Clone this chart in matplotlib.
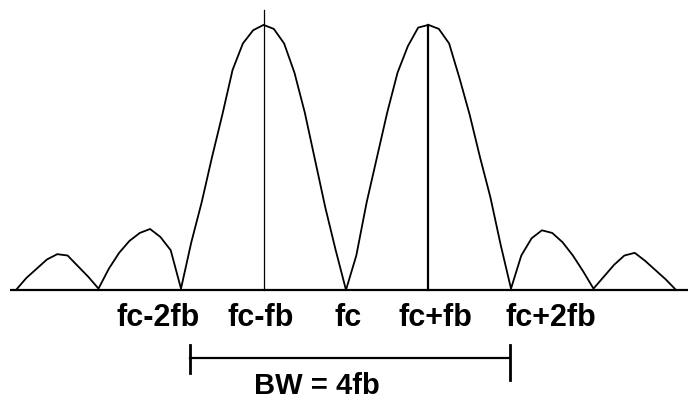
"""Spectrum sketch: two main lobes at fc-fb and fc+fb, bandwidth 4fb."""

import matplotlib

matplotlib.use("Agg")
import matplotlib.pyplot as plt

# frequency offsets from fc in units of fb
OFFSETS = [
    -4.0, -3.875, -3.75, -3.625, -3.5, -3.375, -3.25, -3.125,
    -3.0, -2.875, -2.75, -2.625, -2.5, -2.375, -2.25, -2.125,
    -2.0, -1.875, -1.75, -1.625, -1.5, -1.375, -1.25, -1.125,
    -1.0, -0.875, -0.75, -0.625, -0.5, -0.375, -0.25, -0.125,
    0.0, 0.125, 0.25, 0.375, 0.5, 0.625, 0.75, 0.875,
    1.0, 1.125, 1.25, 1.375, 1.5, 1.625, 1.75, 1.875,
    2.0, 2.125, 2.25, 2.375, 2.5, 2.625, 2.75, 2.875,
    3.0, 3.125, 3.25, 3.375, 3.5, 3.625, 3.75, 3.875, 4.0,
]
# relative amplitude (main lobe peak = 1)
AMPLITUDE = [
    0.0, 0.045, 0.08, 0.115, 0.135, 0.13, 0.09, 0.05,
    0.005, 0.08, 0.14, 0.185, 0.215, 0.23, 0.2, 0.15,
    0.005, 0.18, 0.33, 0.50, 0.66, 0.83, 0.93, 0.98,
    1.0, 0.985, 0.93, 0.82, 0.67, 0.49, 0.31, 0.15,
    0.0, 0.13, 0.33, 0.50, 0.67, 0.82, 0.92, 0.99,
    1.0, 0.985, 0.93, 0.80, 0.66, 0.50, 0.35, 0.17,
    0.005, 0.13, 0.195, 0.225, 0.215, 0.18, 0.13, 0.07,
    0.005, 0.05, 0.095, 0.13, 0.14, 0.11, 0.075, 0.04, 0.0,
]

LABELS = ["fc-2fb", "fc-fb", "fc", "fc+fb", "fc+2fb"]
LABEL_POS = [-2.28, -1.03, 0.02, 1.08, 2.48]
PEAKS = [-1.0, 0.99]
PEAK_LINE_TOP = [1.057, 1.0]
BW_START, BW_END = -1.89, 1.99
BW_TEXT = "BW = 4fb"

FONT = ["Liberation Sans", "DejaVu Sans"]

fig = plt.figure(figsize=(7.0, 4.01), dpi=100)
ax = fig.add_axes([0, 0, 1, 1])
ax.set_xlim(-4.194, 4.291)
ax.set_ylim(-0.419, 1.094)
ax.set_axis_off()

# baseline
ax.plot([-4.07, 4.15], [0, 0], color="black", lw=1.6, solid_capstyle="butt")
# spectrum curve
ax.plot(OFFSETS, AMPLITUDE, color="black", lw=1.3)
# centre lines of the two main lobes
ax.plot([PEAKS[0], PEAKS[0]], [0, PEAK_LINE_TOP[0]], color="black", lw=0.9)
ax.plot([PEAKS[1], PEAKS[1]], [0, PEAK_LINE_TOP[1]], color="black", lw=1.6)

for label, pos in zip(LABELS, LABEL_POS):
    ax.text(pos, -0.136, label, ha="center", va="baseline", fontsize=22,
            fontweight="bold", family=FONT)

# bandwidth bar
bar_y = -0.257
ax.plot([BW_START, BW_END], [bar_y, bar_y], color="black", lw=1.6)
ax.plot([BW_START, BW_START], [-0.208, -0.313], color="black", lw=2.0)
ax.plot([BW_END, BW_END], [-0.208, -0.34], color="black", lw=2.0)
ax.text((BW_START + BW_END) / 2 - 0.4, -0.393, BW_TEXT, ha="center",
        va="baseline", fontsize=21, fontweight="bold", family=FONT)

fig.savefig("out.png", dpi=100)
